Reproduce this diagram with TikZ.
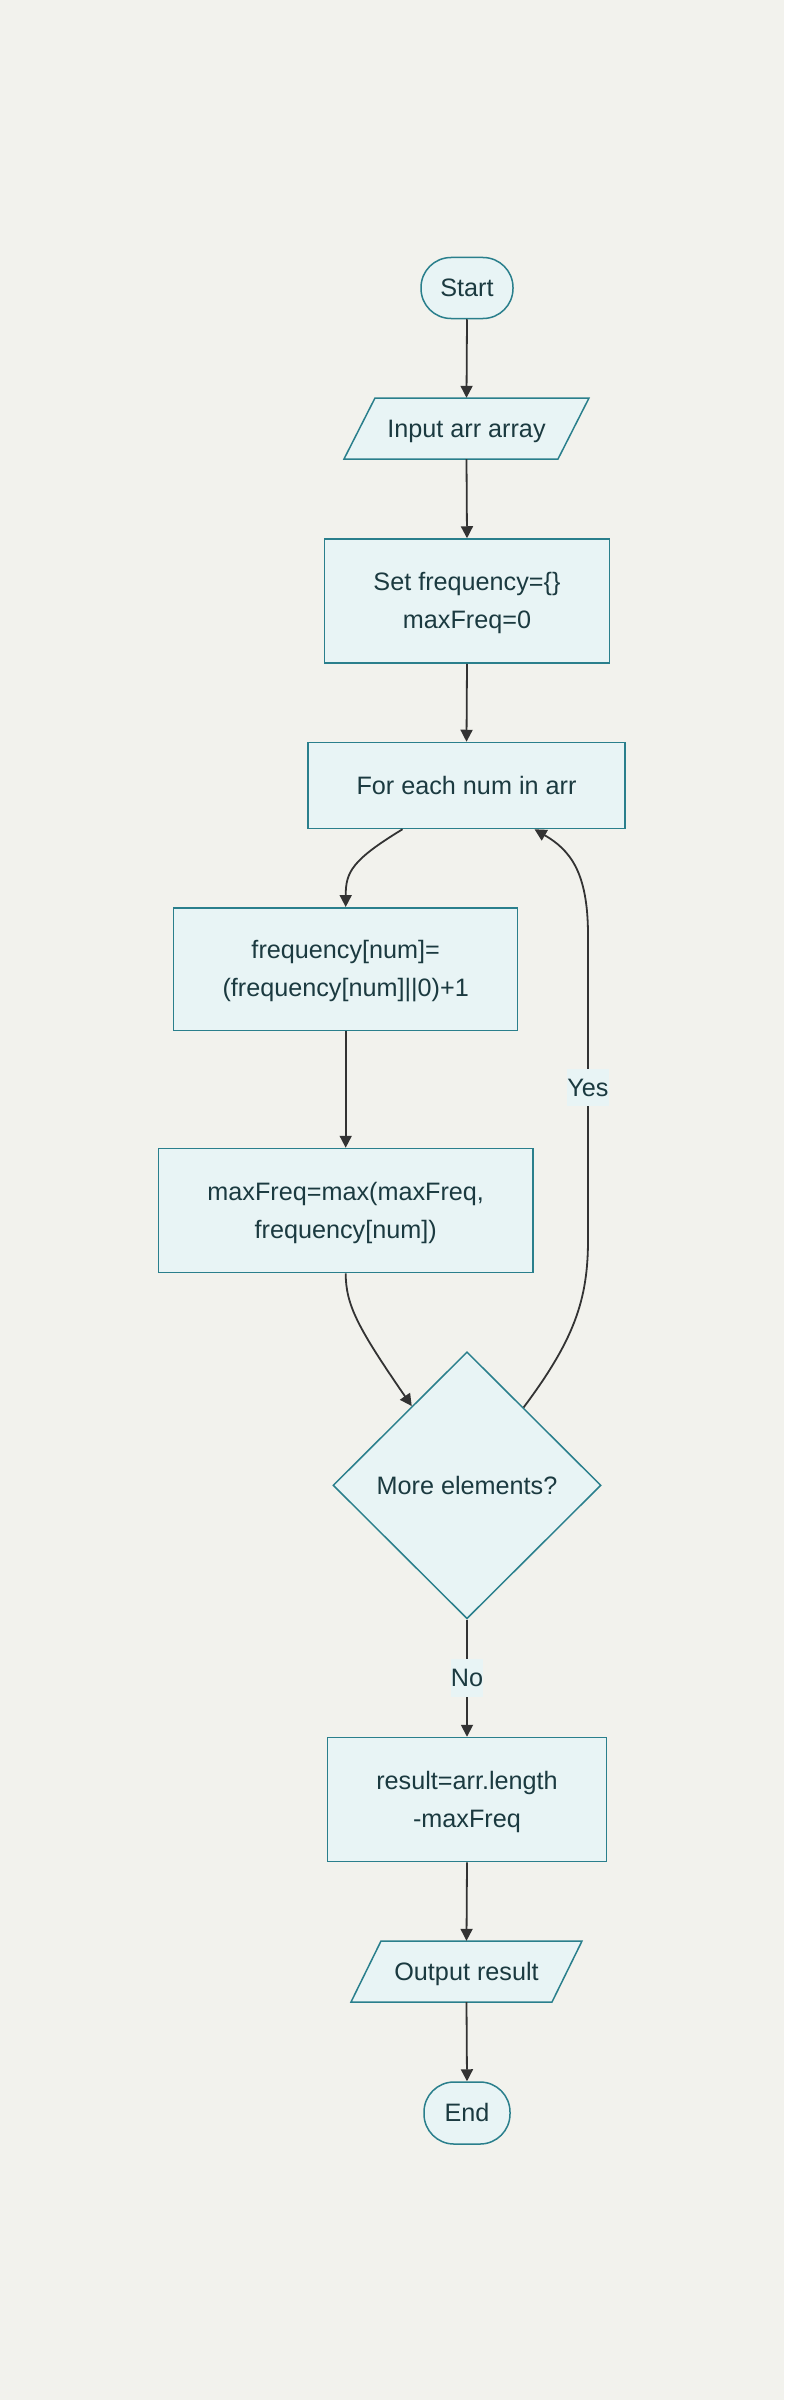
\documentclass[tikz,border=0pt]{standalone}
\usepackage{fontspec}
\setmainfont{Liberation Sans}
\usetikzlibrary{shapes.geometric,arrows.meta,calc}
\definecolor{bgc}{HTML}{F2F2ED}
\definecolor{nodefill}{HTML}{E8F4F5}
\definecolor{nodeline}{HTML}{2A7F8C}
\definecolor{txtc}{HTML}{1B3A40}
\definecolor{arrc}{HTML}{333333}
\newcommand\myfnt{\fontsize{25.2}{37.8}\selectfont}
\newcommand\mystrut{\rule[-10.2pt]{0pt}{37.8pt}}
\begin{document}
\begin{tikzpicture}[x=1pt,y=-1pt,
  base/.style={draw=nodeline, fill=nodefill, line width=1.5pt, text=txtc, font=\myfnt, align=center, inner sep=0pt},
  proc/.style={base, rectangle},
  term/.style={base, rectangle, rounded corners=30pt},
  iotext/.style={text=txtc, font=\myfnt, inner sep=0pt, minimum height=61pt},
  ioshape/.style={draw=nodeline, fill=nodefill, line width=1.5pt},
  dec/.style={base, diamond, aspect=1, minimum width=268pt, minimum height=267pt},
  flow/.style={draw=arrc, line width=1.8pt, -{Triangle[length=12pt,width=12pt]}},
  lbl/.style={fill=nodefill, text=txtc, font=\myfnt, inner sep=0pt}
]
\path[use as bounding box, fill=bgc] (0,0) rectangle (784,2400);

% terminals
\node[term, minimum width=92pt, minimum height=61pt] (start) at (467,288) {\mystrut Start};

% input parallelogram
\coordinate (inC) at (466.5,428.5);
\draw[ioshape] ($(inC)+(-91.5,-30.5)$) -- ($(inC)+(122.5,-30.5)$) -- ($(inC)+(91.5,30.5)$) -- ($(inC)+(-122.5,30.5)$) -- cycle;
\node[iotext, minimum width=214pt] (input) at (inC) {\mystrut Input arr array};

\node[proc, minimum width=285pt, minimum height=124pt] (set) at (467,601) {\mystrut Set frequency=\{\}\\\mystrut maxFreq=0};
\node[proc, minimum width=317pt, minimum height=86pt] (for) at (466.5,785.5) {\mystrut For each num in arr};
\node[proc, minimum width=344pt, minimum height=122.5pt] (freq) at (345.7,969) {\mystrut frequency[num]=\\\mystrut (frequency[num]||0)+1};
\node[proc, minimum width=374.5pt, minimum height=124pt] (max) at (345.7,1210.5) {\mystrut maxFreq=max(maxFreq,\\\mystrut frequency[num])};
\node[dec] (more) at (467,1485.3) {\mystrut More elements?};
\node[proc, minimum width=279pt, minimum height=124pt] (result) at (467,1799.5) {\mystrut result=arr.length\\\mystrut -maxFreq};

% output parallelogram
\coordinate (outC) at (466.5,1971.5);
\draw[ioshape] ($(outC)+(-85.5,-30.5)$) -- ($(outC)+(115.5,-30.5)$) -- ($(outC)+(85.5,30.5)$) -- ($(outC)+(-115.5,30.5)$) -- cycle;
\node[iotext, minimum width=201pt] (output) at (outC) {\mystrut Output result};

\node[term, minimum width=86pt, minimum height=62pt] (end) at (467,2113) {\mystrut End};

% connectors
\draw[flow] (start.south) -- (input.north);
\draw[flow] (input.south) -- (set.north);
\draw[flow] (set.south) -- (for.north);
\draw[flow] ([xshift=-64pt]for.south) .. controls (352,860) and (345.7,872) .. (freq.north);
\draw[flow] (freq.south) -- (max.north);
\draw[flow] (max.south) .. controls (345.7,1305) and (358,1328) .. ($(more.north)!0.41!(more.west)$);
\draw[flow] ($(more.north)!0.42!(more.east)$) .. controls (574,1340) and (588,1300) .. (588,1240)
   -- node[lbl] {\mystrut Yes} (588,935) .. controls (588,872) and (570,850) .. ([xshift=68pt]for.south);
\draw[flow] (more.south) -- node[lbl] {\mystrut No} (result.north);
\draw[flow] (result.south) -- (output.north);
\draw[flow] (output.south) -- (end.north);
\end{tikzpicture}
\end{document}
